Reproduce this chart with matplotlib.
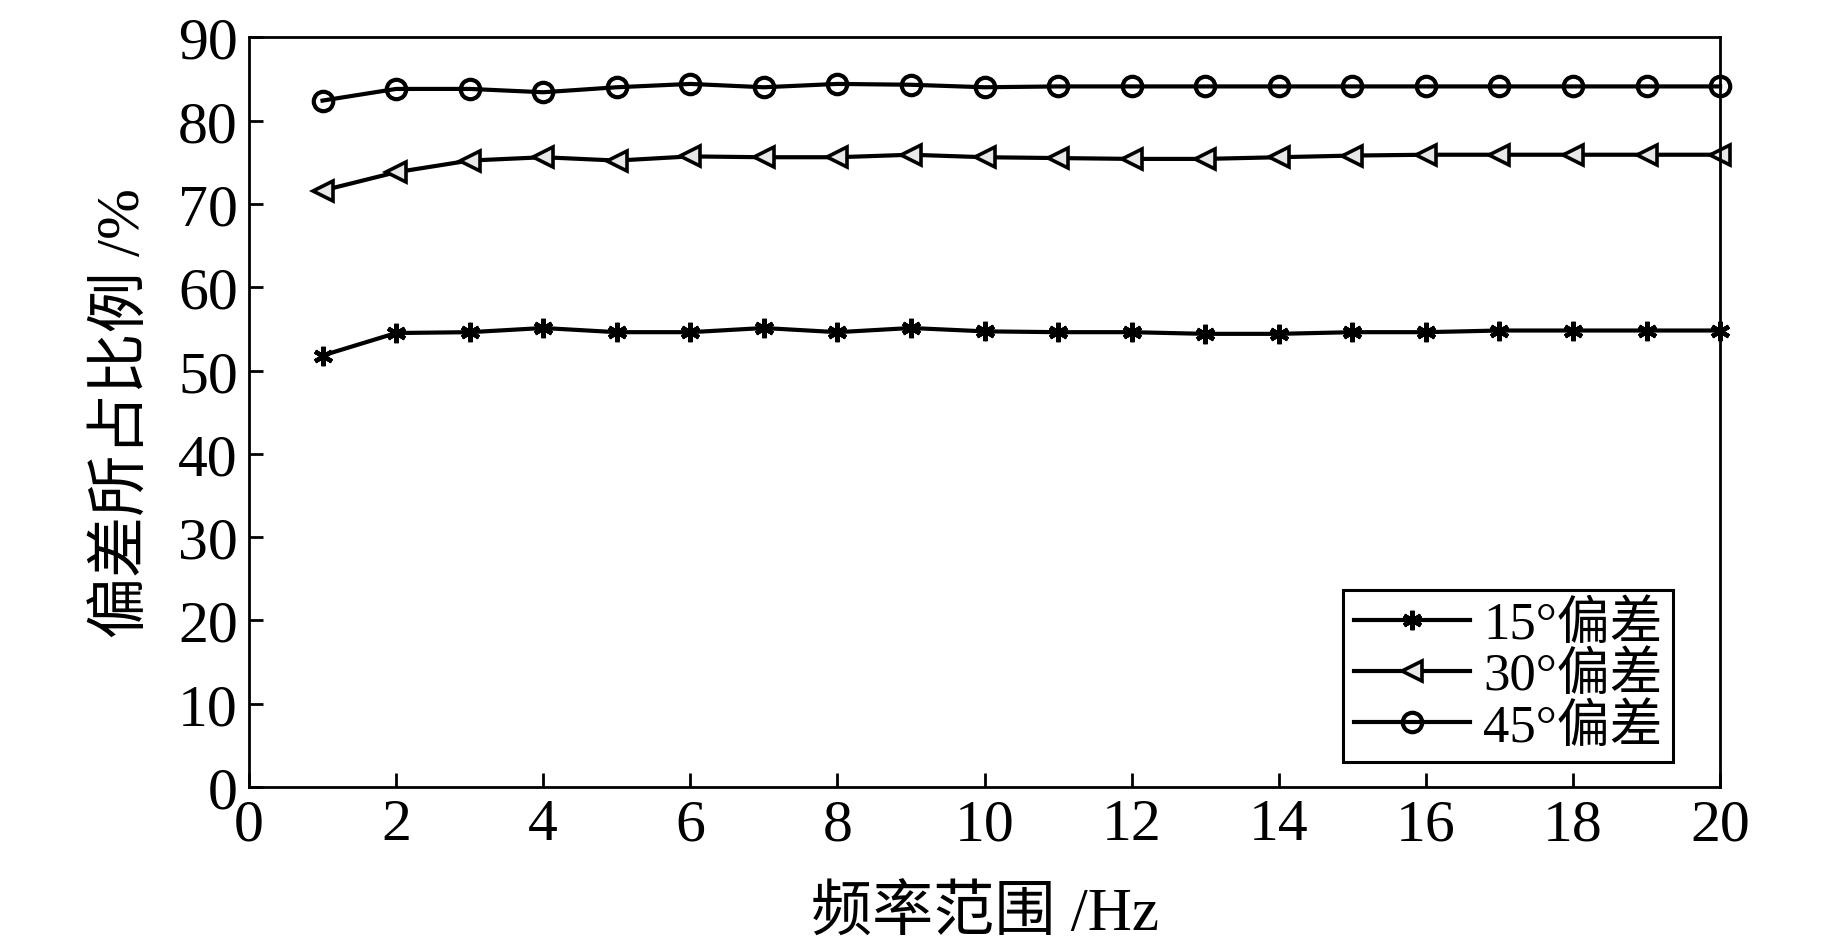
import matplotlib
matplotlib.use("Agg")
import matplotlib.pyplot as plt

plt.rcParams['font.family'] = ['Liberation Serif', 'Noto Sans CJK SC', 'DejaVu Sans']
plt.rcParams['axes.unicode_minus'] = False

freq = list(range(1, 21))
dev15 = [51.8, 54.5, 54.6, 55.1, 54.6, 54.6, 55.1, 54.6, 55.1, 54.7,
         54.6, 54.6, 54.4, 54.4, 54.6, 54.6, 54.8, 54.8, 54.8, 54.8]
dev30 = [71.6, 73.8, 75.2, 75.6, 75.2, 75.7, 75.6, 75.6, 75.9, 75.6,
         75.5, 75.4, 75.4, 75.6, 75.8, 75.9, 75.9, 75.9, 75.9, 75.9]
dev45 = [82.4, 83.8, 83.8, 83.4, 84.0, 84.4, 84.0, 84.4, 84.3, 84.0,
         84.1, 84.1, 84.1, 84.1, 84.1, 84.1, 84.1, 84.1, 84.1, 84.1]
labels = ['15°偏差', '30°偏差', '45°偏差']
xticks = list(range(0, 21, 2))
yticks = list(range(0, 91, 10))

fig = plt.figure(figsize=(18.43, 9.45), dpi=100)
ax = fig.add_axes([0.1351, 0.1661, 0.7982, 0.7934])

ax.plot(freq, dev15, color='black', lw=3, marker=(6, 2, 0), ms=14, mew=3.2,
        label=labels[0], clip_on=False)
ax.plot(freq, dev30, color='black', lw=3, marker='<', ms=15, mew=2.6,
        mfc='#e8e8e8', label=labels[1], clip_on=False)
ax.plot(freq, dev45, color='black', lw=3, marker='o', ms=14, mew=3,
        mfc='none', label=labels[2], clip_on=False)

ax.set_xlim(0, 20)
ax.set_ylim(0, 90)
ax.set_xticks(xticks)
ax.set_yticks(yticks)
ax.tick_params(direction='in', length=10, width=2, labelsize=43, pad=8)
for s in ax.spines.values():
    s.set_linewidth(2)

ax.set_xlabel('频率范围 /Hz', fontsize=44, labelpad=24)
ax.set_ylabel('偏差所占比例 /%', fontsize=44, labelpad=18)

leg = ax.legend(loc='lower right', bbox_to_anchor=(0.968, 0.033), fontsize=38,
                frameon=True, fancybox=False, edgecolor='black', framealpha=1,
                handlelength=2.2, handletextpad=0.25, labelspacing=0.05,
                borderpad=0.2, borderaxespad=0)
leg.get_frame().set_linewidth(2.2)

fig.savefig('out.png', dpi=100)
